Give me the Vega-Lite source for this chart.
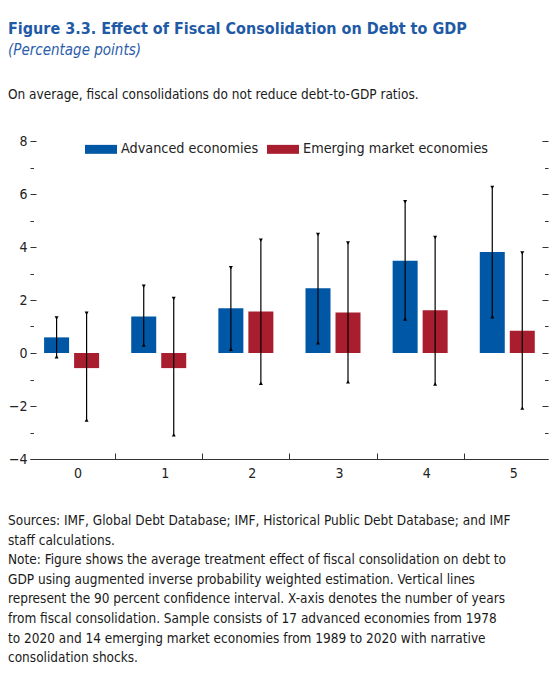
{
  "$schema": "https://vega.github.io/schema/vega-lite/v6.json",
  "background": "white",
  "padding": {"left": 8, "top": 20, "right": 4, "bottom": 4},
  "config": {
    "font": "DejaVu Sans Condensed, DejaVu Sans, sans-serif",
    "view": {"stroke": null},
    "concat": {"spacing": 0}
  },
  "title": {
    "text": "Figure 3.3.  Effect of Fiscal Consolidation on Debt to GDP",
    "subtitle": "(Percentage points)",
    "anchor": "start",
    "fontSize": 16,
    "fontWeight": "bold",
    "color": "#1F5AA6",
    "subtitleFontSize": 15,
    "subtitleFontStyle": "italic",
    "subtitleColor": "#2B5DAA",
    "subtitlePadding": 6,
    "offset": 30
  },
  "data": {
    "values": [
      {"year": 0, "series": "Advanced economies", "value": 0.59, "lo": -0.14, "hi": 1.32},
      {"year": 1, "series": "Advanced economies", "value": 1.38, "lo": 0.30, "hi": 2.52},
      {"year": 2, "series": "Advanced economies", "value": 1.69, "lo": 0.14, "hi": 3.22},
      {"year": 3, "series": "Advanced economies", "value": 2.44, "lo": 0.39, "hi": 4.47},
      {"year": 4, "series": "Advanced economies", "value": 3.48, "lo": 1.28, "hi": 5.71},
      {"year": 5, "series": "Advanced economies", "value": 3.81, "lo": 1.37, "hi": 6.25},
      {"year": 0, "series": "Emerging market economies", "value": -0.57, "lo": -2.53, "hi": 1.50},
      {"year": 1, "series": "Emerging market economies", "value": -0.57, "lo": -3.09, "hi": 2.06},
      {"year": 2, "series": "Emerging market economies", "value": 1.57, "lo": -1.14, "hi": 4.26},
      {"year": 3, "series": "Emerging market economies", "value": 1.53, "lo": -1.09, "hi": 4.15},
      {"year": 4, "series": "Emerging market economies", "value": 1.61, "lo": -1.17, "hi": 4.36},
      {"year": 5, "series": "Emerging market economies", "value": 0.84, "lo": -2.08, "hi": 3.77}
    ]
  },
  "vconcat": [
    {
      "title": {
        "text": [
          "Sources: IMF, Global Debt Database; IMF, Historical Public Debt Database; and IMF",
          "staff calculations.",
          "Note: Figure shows the average treatment effect of fiscal consolidation on debt to",
          "GDP using augmented inverse probability weighted estimation. Vertical lines",
          "represent the 90 percent confidence interval. X-axis denotes the number of years",
          "from fiscal consolidation. Sample consists of 17 advanced economies from 1978",
          "to 2020 and 14 emerging market economies from 1989 to 2020 with narrative",
          "consolidation shocks."
        ],
        "orient": "bottom",
        "anchor": "start",
        "fontSize": 13.5,
        "fontWeight": "normal",
        "color": "#1a1a1a",
        "lineHeight": 19.6,
        "offset": 34
      },
      "vconcat": [
        {
          "title": {
            "text": "On average, fiscal consolidations do not reduce debt-to-GDP ratios.",
            "anchor": "start",
            "fontSize": 13.5,
            "fontWeight": "normal",
            "color": "#1a1a1a",
            "offset": 33
          },
          "width": 518,
          "height": 318,
          "encoding": {
            "x": {
              "field": "year",
              "type": "quantitative",
              "scale": {"domain": [-0.42, 5.41], "nice": false, "zero": false},
              "axis": {
                "title": null,
                "values": [0, 0.5, 1, 1.5, 2, 2.5, 3, 3.5, 4, 4.5, 5],
                "labelExpr": "datum.value % 1 === 0 ? format(datum.value, 'd') : ''",
                "tickSize": {"condition": {"test": "datum.value % 1 !== 0", "value": -6}, "value": 0},
                "labelPadding": 7,
                "labelOffset": 6,
                "labelFontSize": 14,
                "labelColor": "#222",
                "domainColor": "#333",
                "tickColor": "#333",
                "grid": false,
                "labelFlush": false
              }
            }
          },
          "layer": [
            {
              "transform": [{"filter": "datum.series === 'Advanced economies'"}],
              "mark": {"type": "bar", "width": 25, "xOffset": -15},
              "encoding": {
                "y": {
                  "field": "value",
                  "type": "quantitative",
                  "scale": {"domain": [-4, 8], "nice": false},
                  "axis": {
                    "title": null,
                    "orient": "left",
                    "values": [-4, -3, -2, -1, 0, 1, 2, 3, 4, 5, 6, 7, 8],
                    "labelExpr": "datum.value % 2 === 0 ? format(datum.value, 'd') : ''",
                    "tickSize": {"condition": {"test": "datum.value % 2 !== 0", "value": -3.5}, "value": -6},
                    "labelPadding": 9,
                    "labelFontSize": 14,
                    "labelColor": "#222",
                    "tickColor": "#333",
                    "domain": false,
                    "grid": false,
                    "minExtent": 22,
                    "maxExtent": 22
                  }
                },
                "color": {
                  "field": "series",
                  "type": "nominal",
                  "scale": {"domain": ["Advanced economies", "Emerging market economies"], "range": ["#0057A5", "#A91E2F"]},
                  "legend": {
                    "title": null,
                    "orient": "none",
                    "legendX": 55,
                    "legendY": -8,
                    "direction": "horizontal",
                    "symbolType": "M-1,-0.28H1V0.28H-1Z",
                    "symbolSize": 1024,
                    "symbolStrokeWidth": 0,
                    "symbolOpacity": 1,
                    "labelFontSize": 14.3,
                    "labelColor": "#222",
                    "labelOffset": 4,
                    "columnPadding": 8,
                    "labelLimit": 300
                  }
                }
              }
            },
            {
              "transform": [{"filter": "datum.series === 'Emerging market economies'"}],
              "mark": {"type": "bar", "width": 25, "xOffset": 15},
              "encoding": {
                "y": {
                  "field": "value",
                  "type": "quantitative",
                  "axis": {
                    "title": null,
                    "orient": "right",
                    "values": [-4, -3, -2, -1, 0, 1, 2, 3, 4, 5, 6, 7, 8],
                    "labels": false,
                    "tickSize": {"condition": {"test": "datum.value % 2 !== 0", "value": -3.5}, "value": -6},
                    "tickColor": "#333",
                    "domain": false,
                    "grid": false
                  }
                },
                "color": {"field": "series", "type": "nominal"}
              }
            },
            {
              "mark": {"type": "rule", "color": "#444", "strokeWidth": 1},
              "encoding": {"y": {"datum": 0, "type": "quantitative", "axis": null}}
            },
            {
              "transform": [{"filter": "datum.series === 'Advanced economies'"}],
              "mark": {"type": "rule", "xOffset": -15, "color": "black", "strokeWidth": 1.2},
              "encoding": {"y": {"field": "lo", "type": "quantitative", "axis": null}, "y2": {"field": "hi"}}
            },
            {
              "transform": [{"filter": "datum.series === 'Emerging market economies'"}],
              "mark": {"type": "rule", "xOffset": 15, "color": "black", "strokeWidth": 1.2},
              "encoding": {"y": {"field": "lo", "type": "quantitative", "axis": null}, "y2": {"field": "hi"}}
            },
            {
              "transform": [{"filter": "datum.series === 'Advanced economies'"}],
              "mark": {"type": "point", "shape": "triangle-up", "filled": true, "color": "black", "size": 16, "opacity": 1, "xOffset": -15},
              "encoding": {"y": {"field": "lo", "type": "quantitative", "axis": null}}
            },
            {
              "transform": [{"filter": "datum.series === 'Advanced economies'"}],
              "mark": {"type": "point", "shape": "triangle-down", "filled": true, "color": "black", "size": 16, "opacity": 1, "xOffset": -15},
              "encoding": {"y": {"field": "hi", "type": "quantitative", "axis": null}}
            },
            {
              "transform": [{"filter": "datum.series === 'Emerging market economies'"}],
              "mark": {"type": "point", "shape": "triangle-up", "filled": true, "color": "black", "size": 16, "opacity": 1, "xOffset": 15},
              "encoding": {"y": {"field": "lo", "type": "quantitative", "axis": null}}
            },
            {
              "transform": [{"filter": "datum.series === 'Emerging market economies'"}],
              "mark": {"type": "point", "shape": "triangle-down", "filled": true, "color": "black", "size": 16, "opacity": 1, "xOffset": 15},
              "encoding": {"y": {"field": "hi", "type": "quantitative", "axis": null}}
            }
          ],
          "resolve": {"axis": {"y": "independent"}}
        }
      ]
    }
  ]
}
